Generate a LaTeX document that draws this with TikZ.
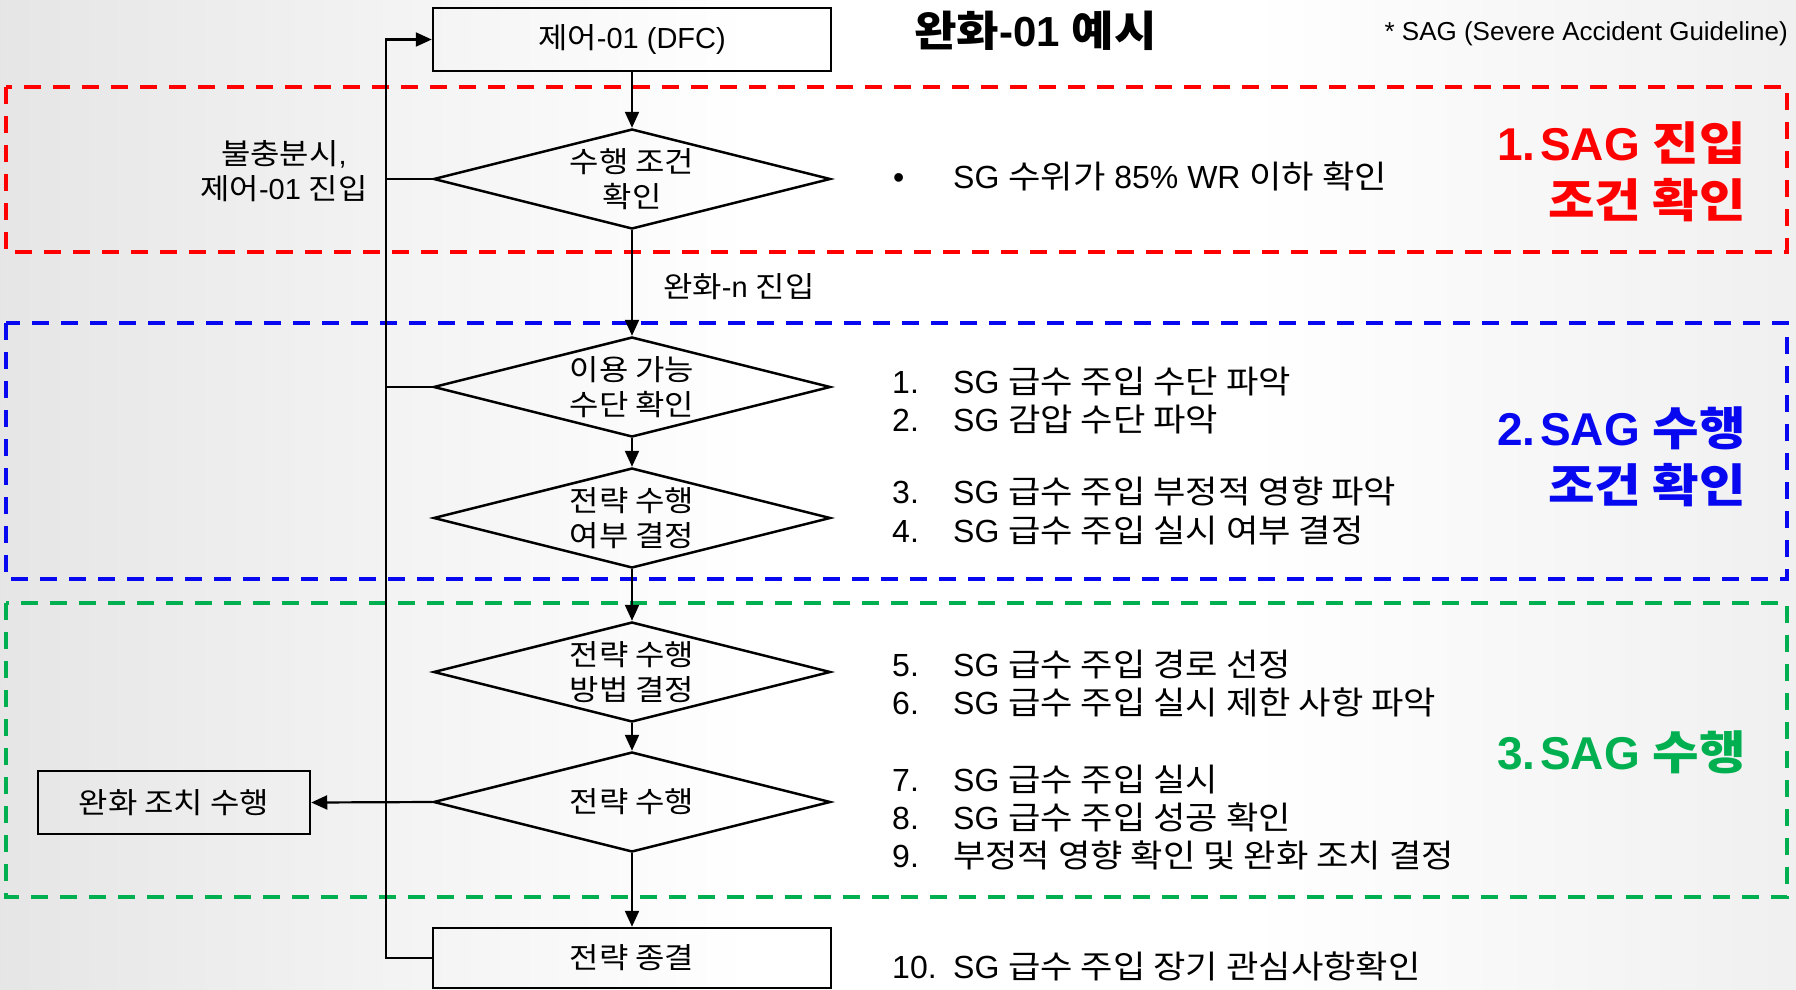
\documentclass[tikz,border=0pt]{standalone}
\usepackage{fontspec}
\setmainfont{Liberation Sans}
\newfontfamily\kr[FakeStretch=1.1]{Noto Sans CJK KR}
\usetikzlibrary{shapes.geometric,arrows.meta}
\definecolor{sagred}{RGB}{255,0,0}
\definecolor{sagblue}{RGB}{8,8,240}
\definecolor{saggreen}{RGB}{0,176,80}
\begin{document}
\begin{tikzpicture}[x=1pt,y=-1pt,
  box/.style={draw=black, line width=2.5pt, inner sep=0pt},
  dia/.style={diamond, draw=black, line width=2.5pt, minimum width=397pt, minimum height=100pt, inner sep=0pt},
  flow/.style={line width=2.2pt, -{Triangle[length=16pt,width=14pt]}},
  rail/.style={line width=2.2pt},
  zone/.style={line width=4pt, dash pattern=on 17pt off 12pt},
  body/.style={font=\fontsize{29}{34.5}\selectfont, inner sep=0pt, align=center},
  kt/.style={font=\fontsize{29}{34.5}\selectfont\kr, inner sep=0pt, align=center},
  item/.style={font=\fontsize{32}{38}\selectfont, inner sep=0pt, anchor=base west},
  sect/.style={font=\fontsize{46}{57}\selectfont\bfseries, inner sep=0pt, align=right, anchor=east},
]
\useasboundingbox (0,0) rectangle (1796,989);
\fill[white] (0,0) rectangle (1796,989);
\shade[left color=black!10, right color=white] (0,0) rectangle (750,989);
\shade[left color=white, right color=black!6] (1250,0) rectangle (1796,989);

% zones
\draw[zone, sagred] (6,87) rectangle (1787,252);
\draw[zone, sagblue] (6,323) rectangle (1787,579);
\draw[zone, saggreen] (6,603) rectangle (1787,897);

% flow nodes
\node[box, body, minimum width=398pt, minimum height=63pt] (dfc) at (632,39.5) {{\kr 제어}-01 (DFC)};
\node[dia] (d1) at (632,179) {};
\node[kt] (d1t) at (d1.center) {수행 조건\\확인};
\node[dia] (d2) at (632,387) {};
\node[kt] (d2t) at (d2.center) {이용 가능\\수단 확인};
\node[dia] (d3) at (632,518) {};
\node[kt] (d3t) at (d3.center) {전략 수행\\여부 결정};
\node[dia] (d4) at (632,672) {};
\node[kt] (d4t) at (d4.center) {전략 수행\\방법 결정};
\node[dia] (d5) at (632,802) {};
\node[kt] (d5t) at (d5.center) {전략 수행};
\node[box, kt, minimum width=272pt, minimum height=63pt] (act) at (174,802.5) {완화 조치 수행};
\node[box, kt, minimum width=398pt, minimum height=60pt] (fin) at (632,958) {전략 종결};
\coordinate (rail) at (386,500);

\node[body] (insuf) at (284,171) {{\kr 불충분시},\\{\kr 제어}-01 {\kr 진입}};
\node[body, anchor=west] (entn) at (663,287) {{\kr 완화}-n {\kr 진입}};

% connectors
\draw[flow] (dfc) -- (d1);
\draw[flow] (d1) -- (d2);
\draw[flow] (d2) -- (d3);
\draw[flow] (d3) -- (d4);
\draw[flow] (d4) -- (d5);
\draw[flow] (d5) -- (fin);
\draw[flow] (d5.west) -- (act.east);
\draw[flow] (fin.west) -- (fin.west -| rail) -- (rail |- dfc.west) -- (dfc.west);
\draw[rail] (d1.west) -- (d1.west -| rail);
\draw[rail] (d2.west) -- (d2.west -| rail);

% title and note
\node[font=\fontsize{42}{50}\selectfont\bfseries, inner sep=0pt] (title) at (1035.5,31) {{\kr 완화}-01 {\kr 예시}};
\node[font=\fontsize{26}{31}\selectfont, inner sep=0pt, anchor=east] (sagnote) at (1788,34) {* SAG (Severe Accident Guideline)};

% list
\node[item] (b0) at (893,188.5) {•};
\node[item] (t0) at (953,188.5) {SG {\kr 수위가} 85\% WR {\kr 이하 확인}};
\node[item] (n1) at (892,393.5) {1.};
\node[item] (t1) at (953,393.5) {SG {\kr 급수 주입 수단 파악}};
\node[item] (n2) at (892,431.5) {2.};
\node[item] (t2) at (953,431.5) {SG {\kr 감압 수단 파악}};
\node[item] (n3) at (892,503.5) {3.};
\node[item] (t3) at (953,503.5) {SG {\kr 급수 주입 부정적 영향 파악}};
\node[item] (n4) at (892,542.5) {4.};
\node[item] (t4) at (953,542.5) {SG {\kr 급수 주입 실시 여부 결정}};
\node[item] (n5) at (892,676.5) {5.};
\node[item] (t5) at (953,676.5) {SG {\kr 급수 주입 경로 선정}};
\node[item] (n6) at (892,714.5) {6.};
\node[item] (t6) at (953,714.5) {SG {\kr 급수 주입 실시 제한 사항 파악}};
\node[item] (n7) at (892,791.5) {7.};
\node[item] (t7) at (953,791.5) {SG {\kr 급수 주입 실시}};
\node[item] (n8) at (892,829.5) {8.};
\node[item] (t8) at (953,829.5) {SG {\kr 급수 주입 성공 확인}};
\node[item] (n9) at (892,867.5) {9.};
\node[item] (t9) at (953,867.5) {{\kr 부정적 영향 확인 및 완화 조치 결정}};
\node[item] (n10) at (892,978.5) {10.};
\node[item] (t10) at (953,978.5) {SG {\kr 급수 주입 장기 관심사항확인}};

% section labels
\node[sect, text=sagred] (s1) at (1746,171.5) {1.\hspace{0.1em}SAG {\kr 진입}\\{\kr 조건 확인}};
\node[sect, text=sagblue] (s2) at (1746,457) {2.\hspace{0.1em}SAG {\kr 수행}\\{\kr 조건 확인}};
\node[sect, text=saggreen] (s3) at (1746,752) {3.\hspace{0.1em}SAG {\kr 수행}};
\end{tikzpicture}
\end{document}
